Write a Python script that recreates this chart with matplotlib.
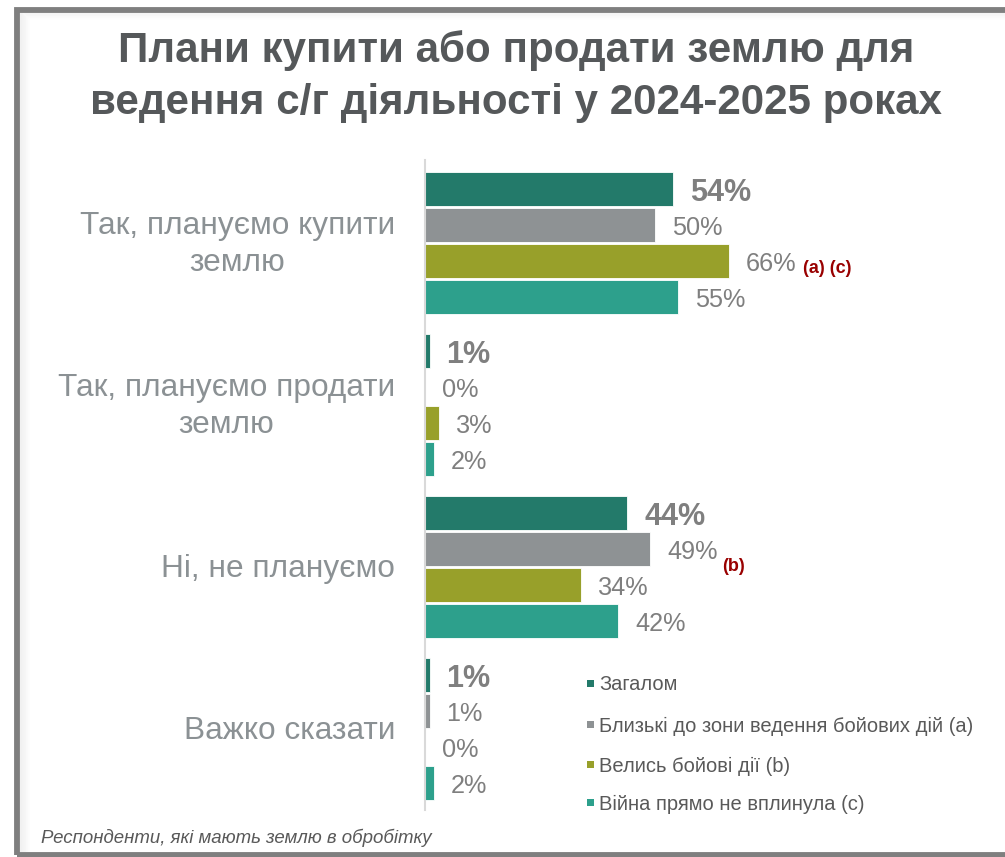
import matplotlib
matplotlib.use("Agg")
import matplotlib.pyplot as plt
from matplotlib.patches import Rectangle
from matplotlib.transforms import blended_transform_factory
import numpy as np

plt.rcParams['font.family'] = ['Liberation Sans', 'DejaVu Sans']

# ---------------- data ----------------
categories = ["Так, плануємо купити\nземлю", "Так, плануємо продати\nземлю",
              "Ні, не плануємо", "Важко сказати"]
series_names = ["Загалом", "Близькі до зони ведення бойових дій (a)",
                "Велись бойові дії (b)", "Війна прямо не вплинула (c)"]
total = [54, 1, 44, 1]
near_front = [50, 0, 49, 1]
combat = [66, 3, 34, 0]
not_affected = [55, 2, 42, 2]
series_values = [total, near_front, combat, not_affected]
colors = ["#237A6A", "#8E9294", "#98A02A", "#2DA08C"]
# significance notes: (category index, series index, text)
notes = [(0, 2, "(a) (c)"), (2, 1, "(b)")]
title_lines = ["Плани купити або продати землю для",
               "ведення с/г діяльності у 2024-2025 роках"]
footnote = "Респонденти, які мають землю в обробітку"

W, H = 1005, 857
fig = plt.figure(figsize=(W / 100, H / 100), dpi=100)
fig.patch.set_facecolor("white")

def fx(px):
    return px / W

def fy(py):
    return 1 - py / H

# frame with soft inner shadow
for k in range(10):
    a = 0.10 * (1 - k / 10)
    fig.add_artist(Rectangle((fx(20 + k), fy(853)), fx(1100), (855 - 12 - k) / H,
                             transform=fig.transFigure, fill=False,
                             edgecolor=(0.5, 0.5, 0.5, a), linewidth=0.8))
fig.add_artist(Rectangle((fx(17), fy(855)), fx(1100), (855 - 9.5) / H,
                         transform=fig.transFigure, fill=False,
                         edgecolor="#7F7F7F", linewidth=4.2))

# axes: x 425..885 px -> 0..100 ; y 160..810 px
ax_left, ax_right = 425, 885
ax_top, ax_bot = 160, 810
ax = fig.add_axes([fx(ax_left), fy(ax_bot), fx(ax_right - ax_left), (ax_bot - ax_top) / H])
step = 36.0
group_gap = 162.0 / step
first_center = 189.0
y_top = -(first_center - ax_top) / step
y_bot = y_top + (ax_bot - ax_top) / step
ax.set_xlim(0, 100)
ax.set_ylim(y_bot, y_top)

n_series = len(series_values)
bar_h = 34.0 / step
for si, vals in enumerate(series_values):
    ys = [g * group_gap + si for g in range(len(categories))]
    ax.barh(ys, vals, height=bar_h, color=colors[si], edgecolor="white",
            linewidth=0.6)
    for g, v in enumerate(vals):
        bold = (si == 0)
        ax.annotate(f"{v}%", xy=(v, ys[g]), xytext=(17, 0),
                    textcoords="offset pixels", ha="left", va="center_baseline",
                    fontsize=22 if bold else 18.2,
                    fontweight="bold" if bold else "normal",
                    color="#7F7F7F")

note_offsets = {"(a) (c)": (74, -5), "(b)": (72, -15)}
for g, si, txt in notes:
    v = series_values[si][g]
    ox, oy = note_offsets[txt]
    ax.annotate(txt, xy=(v, g * group_gap + si), xytext=(ox, oy),
                textcoords="offset pixels", ha="left", va="center_baseline",
                fontsize=13, fontweight="bold", color="#990000")

for s in ["top", "right", "bottom"]:
    ax.spines[s].set_visible(False)
ax.spines["left"].set_color("#D9D9D9")
ax.spines["left"].set_linewidth(1.5)
ax.set_xticks([])
ax.set_yticks([])
ax.patch.set_alpha(0)

# category labels
trans = blended_transform_factory(fig.transFigure, ax.transData)
for g, cat in enumerate(categories):
    ax.text(fx(395), g * group_gap + (n_series - 1) / 2 + 0.05, cat, transform=trans,
            ha="right", va="center", fontsize=22.8, color="#8B9194",
            linespacing=1.32, multialignment="center")

# title
fig.text(fx(516), fy(62), title_lines[0], ha="center", va="baseline",
         fontsize=30.3, fontweight="bold", color="#55585A")
fig.text(fx(516), fy(114), title_lines[1], ha="center", va="baseline",
         fontsize=30.3, fontweight="bold", color="#55585A")

# legend
leg_rows = [683, 724, 764, 802]
for si, name in enumerate(series_names):
    yc = leg_rows[si]
    fig.add_artist(Rectangle((fx(587), fy(yc + 3.5)), fx(7), 7 / H,
                             transform=fig.transFigure, facecolor=colors[si],
                             edgecolor="none"))
    fig.text(fx(599), fy(yc), name, ha="left", va="center_baseline",
             fontsize=14.5, color="#595959")

# footnote
fig.text(fx(41), fy(836), footnote, ha="left", va="center_baseline",
         fontsize=13.4, style="italic", color="#595959")

fig.savefig("out.png", dpi=100, facecolor="white")
